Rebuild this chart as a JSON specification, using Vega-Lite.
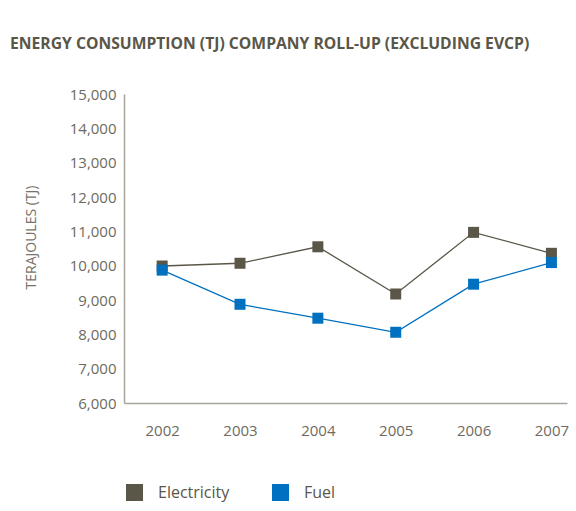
{
  "$schema": "https://vega.github.io/schema/vega-lite/v6.json",
  "width": 443,
  "height": 309,
  "autosize": "none",
  "padding": {"left": 124, "top": 94, "right": 9, "bottom": 108},
  "background": "white",
  "config": {"view": {"stroke": null}},
  "title": {
    "text": "ENERGY CONSUMPTION (TJ) COMPANY ROLL-UP (EXCLUDING EVCP)",
    "anchor": "start",
    "frame": "group",
    "dx": -114,
    "offset": 34,
    "font": "Open Sans",
    "fontSize": 15.7,
    "fontWeight": "bold",
    "color": "#5a5648"
  },
  "data": {
    "values": [
      {"year": 2002, "series": "Electricity", "tj": 9990},
      {"year": 2003, "series": "Electricity", "tj": 10070},
      {"year": 2004, "series": "Electricity", "tj": 10550},
      {"year": 2005, "series": "Electricity", "tj": 9175},
      {"year": 2006, "series": "Electricity", "tj": 10970},
      {"year": 2007, "series": "Electricity", "tj": 10360},
      {"year": 2002, "series": "Fuel", "tj": 9870},
      {"year": 2003, "series": "Fuel", "tj": 8875},
      {"year": 2004, "series": "Fuel", "tj": 8470},
      {"year": 2005, "series": "Fuel", "tj": 8060},
      {"year": 2006, "series": "Fuel", "tj": 9460},
      {"year": 2007, "series": "Fuel", "tj": 10090}
    ]
  },
  "encoding": {
    "x": {
      "field": "year",
      "type": "quantitative",
      "scale": {"domain": [2001.51, 2007.2], "nice": false, "zero": false},
      "axis": {
        "values": [2002, 2003, 2004, 2005, 2006, 2007],
        "format": "d",
        "title": null,
        "grid": false,
        "ticks": false,
        "labelPadding": 20,
        "labelFont": "Open Sans",
        "labelFontSize": 15,
        "labelColor": "#6e6a60",
        "domainColor": "#a8a59c",
        "domainWidth": 1.5
      }
    },
    "y": {
      "field": "tj",
      "type": "quantitative",
      "scale": {"domain": [6000, 15000], "nice": false, "zero": false},
      "axis": {
        "values": [6000, 7000, 8000, 9000, 10000, 11000, 12000, 13000, 14000, 15000],
        "format": ",d",
        "title": "TERAJOULES (TJ)",
        "titleFont": "Open Sans",
        "titleFontSize": 14,
        "titleFontWeight": "normal",
        "titleColor": "#77736a",
        "titlePadding": 31,
        "titleY": 143,
        "grid": false,
        "ticks": false,
        "labelPadding": 8,
        "labelFont": "Open Sans",
        "labelFontSize": 15,
        "labelColor": "#6e6a60",
        "domainColor": "#a8a59c",
        "domainWidth": 1.5
      }
    },
    "color": {
      "field": "series",
      "type": "nominal",
      "scale": {"domain": ["Electricity", "Fuel"], "range": ["#5a5648", "#0070c0"]},
      "legend": {
        "title": null,
        "orient": "none",
        "direction": "horizontal",
        "legendX": 2,
        "legendY": 390,
        "symbolType": "square",
        "symbolSize": 289,
        "symbolStrokeWidth": 0,
        "labelFont": "Open Sans",
        "labelFontSize": 16,
        "labelColor": "#5a5648",
        "labelOffset": 15,
        "columnPadding": 42
      }
    }
  },
  "layer": [
    {"mark": {"type": "line", "strokeWidth": 1.3}},
    {"mark": {"type": "point", "shape": "square", "filled": true, "size": 121, "opacity": 1}}
  ]
}
